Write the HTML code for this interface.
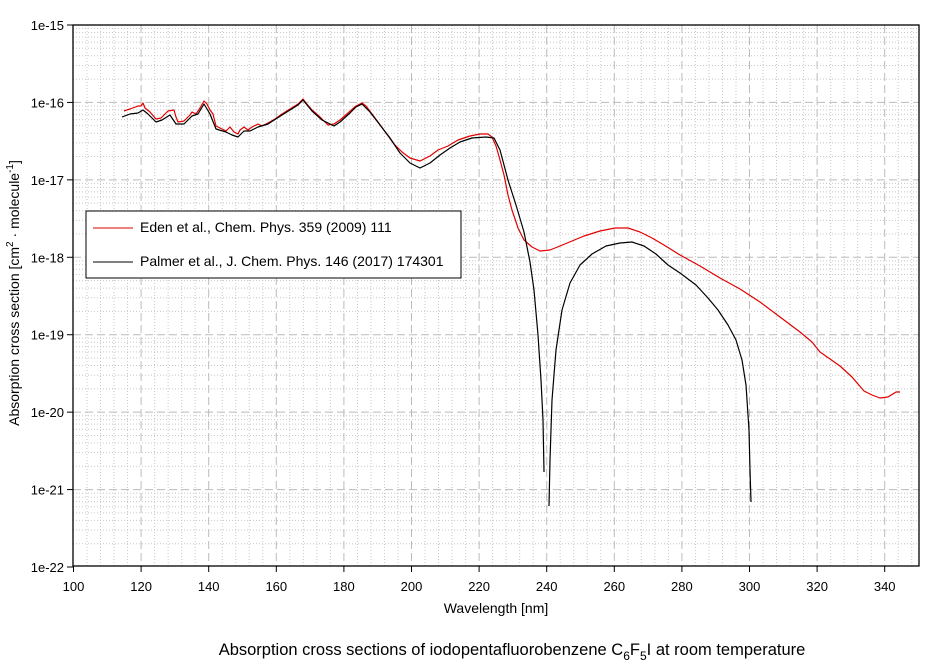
<!DOCTYPE html><html><head><style>body{margin:0;background:#fff}svg{font-family:"Liberation Sans",Arial,sans-serif}</style></head><body>
<svg width="944" height="667" xmlns="http://www.w3.org/2000/svg">
<g id="grid"></g>
<polyline fill="none" stroke="#e00000" stroke-width="1.2" stroke-linejoin="round" points="124,111 130,109 138,106 141,106 143,103 145,108 150,112 156,119 161,118 168,111 174,110 176,117 178,122 184,121 190,115 192,112 196,114 200,108 204,101 207,104 210,110 213,114 216,126 220,128 226,131 230,127 234,132 238,134 240,130 244,127 248,130 252,127 258,124 262,126 268,123 275,119 282,114 290,109 298,104 303,99 306,103 312,110 320,117 328,125 334,124 340,120 348,113 356,106 362,103 366,106 372,114 378,122 386,133 394,144 402,152 410,158 420,161 430,156 438,150 448,146 458,140 470,136 480,134 488,134 492,137 496,146 500,160 504,175 508,195 512,210 518,228 524,240 532,247 540,251 550,250 560,246 572,241 584,236 600,231 615,228 628,228 640,232 652,238 664,245 680,255 700,266 720,278 740,289 760,302 780,317 800,332 812,342 820,352 830,359 840,366 852,377 864,391 872,395 880,398 888,397 896,392 900,392"/>
<polyline fill="none" stroke="#000" stroke-width="1.2" stroke-linejoin="round" points="122,117 130,114 138,113 143,110 148,114 156,122 162,120 170,115 176,124 184,124 192,116 198,114 204,104 210,114 216,129 226,132 232,135 238,137 244,131 250,131 258,127 268,124 282,115 290,110 298,105 303,100 312,111 322,120 334,126 340,122 350,113 356,107 362,104 370,112 380,125 390,138 400,153 410,163 420,168 430,163 440,155 450,148 460,142 472,138 486,137 494,138 500,150 508,180 516,205 524,232 530,262 534,290 538,335 541,380 543,420 544,472"/>
<polyline fill="none" stroke="#000" stroke-width="1.2" stroke-linejoin="round" points="549,506 550,460 552,400 556,350 562,310 570,283 580,265 592,254 606,246 620,243 632,242 644,246 656,254 668,265 680,273 696,285 708,298 718,310 728,325 736,340 742,360 746,385 749,430 750,470 751,502"/>
<rect x="73" y="25" width="846" height="541" fill="none" stroke="#000" stroke-width="1.3"/>
<g id="ticks" font-size="13" fill="#000"></g>
<rect x="86" y="211" width="375" height="67" fill="#fff" stroke="#000"/>
<line x1="93" y1="228" x2="133" y2="228" stroke="#e00000"/>
<line x1="93" y1="262" x2="133" y2="262" stroke="#000"/>
<text x="140" y="232" font-size="14">Eden et al., Chem. Phys. 359 (2009) 111</text>
<text x="140" y="266" font-size="14">Palmer et al., J. Chem. Phys. 146 (2017) 174301</text>
<text x="496" y="613" font-size="14" text-anchor="middle">Wavelength [nm]</text>
<text transform="translate(19,293) rotate(-90)" font-size="14" text-anchor="middle">Absorption cross section [cm<tspan dy="-6" font-size="10">2</tspan><tspan dy="6"> · molecule</tspan><tspan dy="-6" font-size="10">-1</tspan><tspan dy="6">]</tspan></text>
<text x="512" y="655" font-size="16.5" text-anchor="middle">Absorption cross sections of iodopentafluorobenzene C<tspan dy="5" font-size="12">6</tspan><tspan dy="-5">F</tspan><tspan dy="5" font-size="12">5</tspan><tspan dy="-5">I at room temperature</tspan></text>
</svg>
<script>
var ns="http://www.w3.org/2000/svg",g=document.getElementById("grid"),t=document.getElementById("ticks");
function L(p,x1,y1,x2,y2,s,d,w){var l=document.createElementNS(ns,"line");l.setAttribute("x1",x1);l.setAttribute("y1",y1);l.setAttribute("x2",x2);l.setAttribute("y2",y2);l.setAttribute("stroke",s);l.setAttribute("stroke-width",w||1);if(d)l.setAttribute("stroke-dasharray",d);p.appendChild(l);}
function T(x,y,s,a){var e=document.createElementNS(ns,"text");e.setAttribute("x",x);e.setAttribute("y",y);e.setAttribute("text-anchor",a);e.textContent=s;t.appendChild(e);}
function X(w){return 73.5+(w-100)*3.38;}
function Y(l){return 25+(-15-l)*77.43;}
for(var w=104;w<350;w+=4){if(w%20)L(g,X(w),25,X(w),566,"#c8c8c8","1,2");}
for(var d=-22;d<-15;d++)for(var k=2;k<10;k++){var y=Y(d+Math.log10(k));L(g,73,y,919,y,"#c8c8c8","1,2");}
for(var w=120;w<350;w+=20)L(g,X(w),25,X(w),566,"#bbb","8,4");
for(var d=-21;d<-15;d++)L(g,73,Y(d),919,Y(d),"#bbb","8,4");
for(var w=100;w<=340;w+=20){L(t,X(w),566,X(w),572,"#000");T(X(w),591,""+w,"middle");}
for(var d=-22;d<=-15;d++){L(t,67,Y(d),73,Y(d),"#000");T(64,Y(d)+5,"1e"+d,"end");}
</script>
</body></html>
